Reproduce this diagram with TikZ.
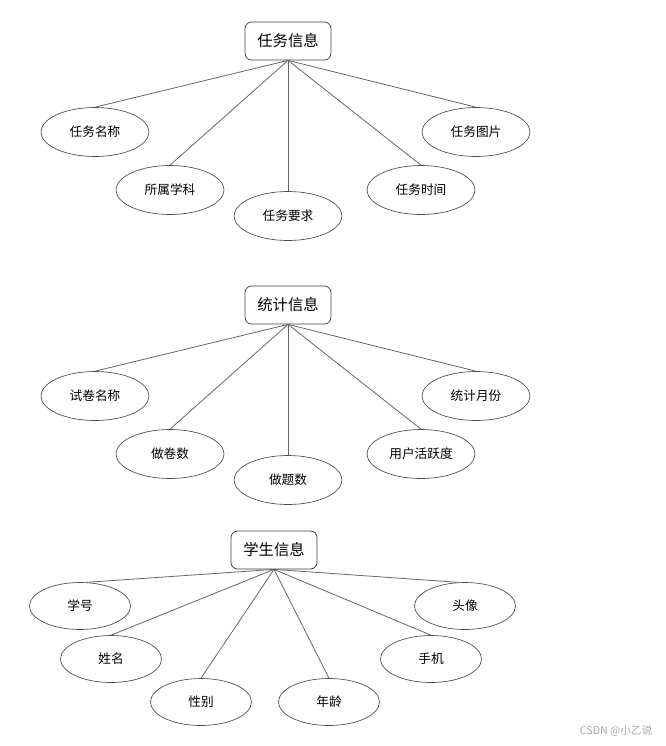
\documentclass[tikz,border=0pt]{standalone}
\usepackage{fontspec}
\setmainfont{Noto Sans CJK SC}
\usetikzlibrary{shapes.geometric}
\tikzset{
  entity/.style={draw=black!75, line width=0.6pt, rounded corners=5pt, minimum width=64.5pt, minimum height=28.5pt, inner sep=0pt, font=\fontsize{11.5}{13}\selectfont},
  attr/.style={ellipse, draw=black!70, line width=0.5pt, minimum width=81pt, minimum height=36.75pt, inner sep=0pt, font=\fontsize{9.5}{11}\selectfont},
  attrs/.style={attr, minimum width=75.75pt, minimum height=35.25pt},
  link/.style={draw=black!60, line width=0.6pt}
}
\begin{document}
\begin{tikzpicture}[x=0.75pt, y=-0.75pt]
\useasboundingbox (0,0) rectangle (665,746);
% task info
\begin{scope}
\node[entity] (rw) at (288,41) {任务信息};
\node[attr] (rwmc) at (95,132) {任务名称};
\node[attr] (ssxk) at (170,190) {所属学科};
\node[attr] (rwyq) at (288,216) {任务要求};
\node[attr] (rwsj) at (421,190) {任务时间};
\node[attr] (rwtp) at (476,132) {任务图片};
\foreach \n in {rwmc,ssxk,rwyq,rwsj,rwtp}
  \draw[link] (rw.south) -- (\n.north);
\end{scope}

% statistics info
\begin{scope}[shift={(0,264)}]
\node[entity] (tj) at (288,41) {统计信息};
\node[attr] (sjmc) at (95,132) {试卷名称};
\node[attr] (zjs) at (170,190) {做卷数};
\node[attr] (zts) at (288,216) {做题数};
\node[attr] (hyd) at (421,190) {用户活跃度};
\node[attr] (tjyf) at (476,132) {统计月份};
\foreach \n in {sjmc,zjs,zts,hyd,tjyf}
  \draw[link] (tj.south) -- (\n.north);
\end{scope}

% student info
\node[entity] (xs) at (274,550) {学生信息};
\node[attrs] (xh) at (80,606) {学号};
\node[attrs] (xm) at (111,659) {姓名};
\node[attrs] (xb) at (201,702) {性别};
\node[attrs] (nl) at (329,702) {年龄};
\node[attrs] (sj) at (431,659) {手机};
\node[attrs] (tx) at (465,606) {头像};
\draw[link] (xs.south) -- (xh.75);
\draw[link] (xs.south) -- (tx.105);
\foreach \n in {xm,xb,nl,sj}
  \draw[link] (xs.south) -- (\n.north);

\node[anchor=east, text=black!35, font=\fontsize{8}{9}\selectfont] (wm) at (657,731) {CSDN @小乙说};
\end{tikzpicture}
\end{document}
